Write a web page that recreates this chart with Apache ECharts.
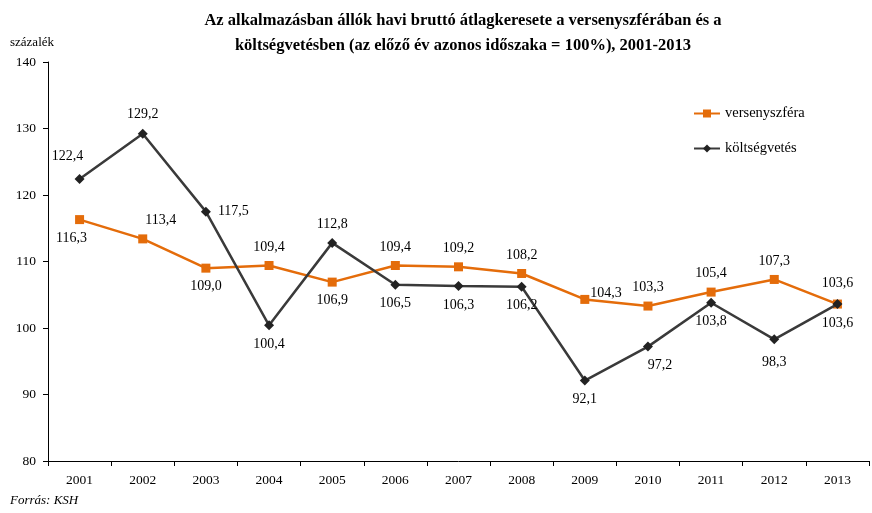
<!DOCTYPE html>
<html>
<head>
<meta charset="utf-8">
<script src="https://cdn.jsdelivr.net/npm/echarts@6/dist/echarts.min.js"></script>
<style>
  html, body { margin: 0; padding: 0; background: #fff; }
  #chart { width: 872px; height: 513px; }
</style>
</head>
<body>
<div id="chart"></div>
<script>
var years = ['2001', '2002', '2003', '2004', '2005', '2006', '2007', '2008', '2009', '2010', '2011', '2012', '2013'];
var verseny = [116.3, 113.4, 109.0, 109.4, 106.9, 109.4, 109.2, 108.2, 104.3, 103.3, 105.4, 107.3, 103.6];
var koltseg = [122.4, 129.2, 117.5, 100.4, 112.8, 106.5, 106.3, 106.2, 92.1, 97.2, 103.8, 98.3, 103.6];
var yTicks = [80, 90, 100, 110, 120, 130, 140];

// címkék helye pontonként
var versenyPos = ['bottom', 'top', 'bottom', 'top', 'bottom', 'top', 'top', 'top', 'right', 'top', 'top', 'top', 'top'];
var versenyOff = [[-8, 0], [18, 0], [0, 0], [0, 0], [0, 0], [0, 0], [0, 0], [0, 0], [-6, -6], [0, 0], [0, 0], [0, 0], [0, -2]];
var koltsegPos = ['top', 'top', 'right', 'bottom', 'top', 'bottom', 'bottom', 'bottom', 'bottom', 'bottom', 'bottom', 'bottom', 'bottom'];
var koltsegOff = [[-12, -4], [0, 0], [0, 0], [0, 0], [0, 0], [0, 0], [0, 0], [0, 0], [0, 0], [12, 0], [0, 0], [0, 4], [0, 0]];

var font = 'Liberation Serif';

function fmt(v) {
  return v.toFixed(1).replace('.', ',');
}

function buildData(vals, pos, off) {
  return vals.map(function (v, i) {
    return {
      value: v,
      label: { position: pos[i], offset: off[i] }
    };
  });
}

var chart = echarts.init(document.getElementById('chart'));

var option = {
  animation: false,
  textStyle: { fontFamily: font },
  title: {
    text: 'Az alkalmazásban állók havi bruttó átlagkeresete a versenyszférában és a\nköltségvetésben (az előző év azonos időszaka = 100%), 2001-2013',
    left: 458,
    top: 3,
    textAlign: 'center',
    textStyle: { fontFamily: font, fontSize: 16.5, fontWeight: 'bold', color: '#000', lineHeight: 25 }
  },
  graphic: [
    { type: 'text', left: 10, top: 36, style: { text: 'százalék', font: '13px ' + font, fill: '#000' } },
    { type: 'text', left: 10, top: 494, style: { text: 'Forrás: KSH', font: 'italic 13px ' + font, fill: '#000' } }
  ],
  legend: {
    orient: 'vertical',
    left: 688,
    top: 101,
    itemGap: 20,
    itemWidth: 26,
    itemHeight: 10,
    textStyle: { fontFamily: font, fontSize: 14.5, color: '#000' },
    data: ['versenyszféra', 'költségvetés']
  },
  grid: { left: 48, right: 3, top: 62, bottom: 52 },
  xAxis: {
    type: 'category',
    data: years,
    axisLine: { lineStyle: { color: '#000', width: 1 } },
    axisTick: { show: true, length: 5, inside: false, lineStyle: { color: '#000' } },
    axisLabel: { color: '#000', fontSize: 13.5, margin: 12, fontFamily: font }
  },
  yAxis: {
    type: 'value',
    min: yTicks[0],
    max: yTicks[yTicks.length - 1],
    interval: 10,
    axisLine: { show: true, lineStyle: { color: '#000', width: 1 } },
    axisTick: { show: true, length: 5, lineStyle: { color: '#000' } },
    splitLine: { show: false },
    axisLabel: { color: '#000', fontSize: 13.5, margin: 12, fontFamily: font }
  },
  series: [{
    name: 'versenyszféra',
    type: 'line',
    data: buildData(verseny, versenyPos, versenyOff),
    symbol: 'rect',
    symbolSize: 9,
    showAllSymbol: true,
    color: '#E46C0A',
    lineStyle: { color: '#E46C0A', width: 2.5 },
    itemStyle: { color: '#E46C0A' },
    label: {
      show: true,
      distance: 7,
      color: '#000',
      fontSize: 14,
      fontFamily: font,
      formatter: function (p) { return fmt(p.value); }
    },
    z: 2
  }, {
    name: 'költségvetés',
    type: 'line',
    data: buildData(koltseg, koltsegPos, koltsegOff),
    symbol: 'diamond',
    symbolSize: 10,
    showAllSymbol: true,
    color: '#3a3a3a',
    lineStyle: { color: '#3a3a3a', width: 2.5 },
    itemStyle: { color: '#222' },
    label: {
      show: true,
      distance: 7,
      color: '#000',
      fontSize: 14,
      fontFamily: font,
      formatter: function (p) { return fmt(p.value); }
    },
    z: 3
  }]
};

chart.setOption(option);
</script>
</body>
</html>
